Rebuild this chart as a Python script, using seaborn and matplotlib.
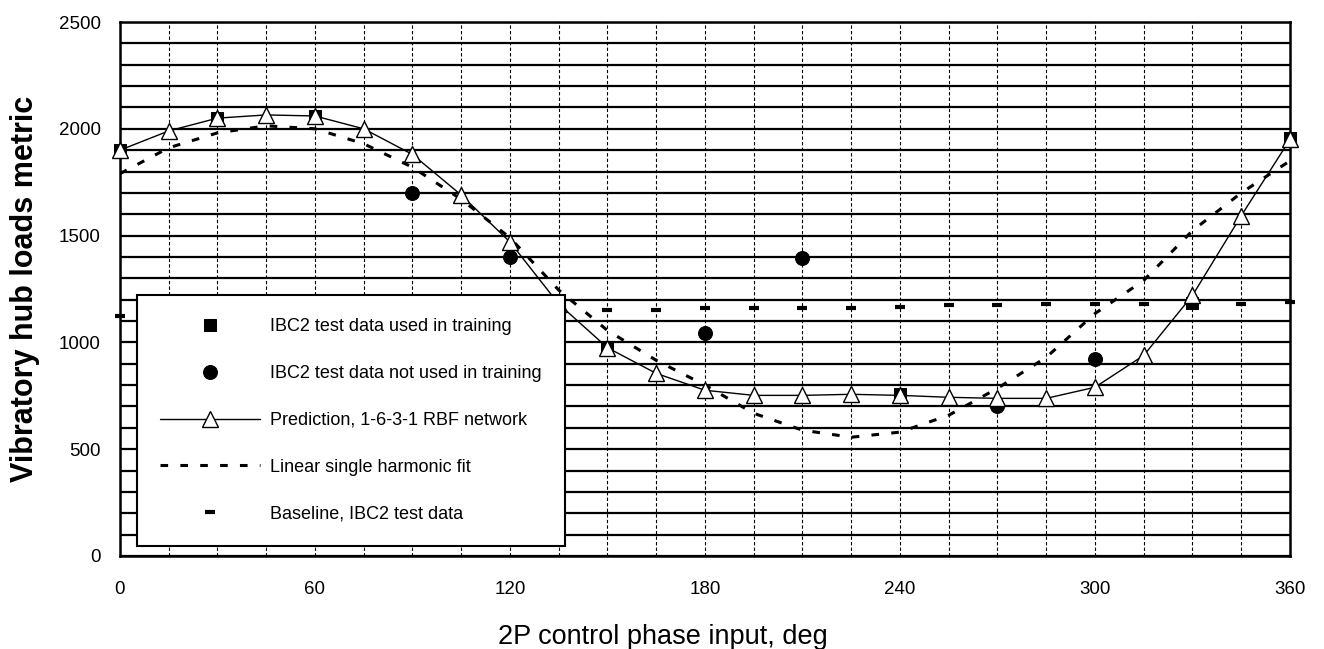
import numpy as np
import pandas as pd
import matplotlib
matplotlib.use('Agg')
import matplotlib.pyplot as plt
from matplotlib.ticker import MultipleLocator
import seaborn as sns

# angulos de fase (graus) e valores
fase = list(range(0, 361, 15))
predicao = [1900, 1990, 2050, 2065, 2060, 2000, 1880, 1690, 1470, 1180,
            975, 855, 776, 752, 752, 757, 752, 743, 738, 738,
            790, 939, 1220, 1593, 1950]
ajuste = [1790, 1911, 1981, 2014, 2000, 1930, 1820, 1670, 1490, 1245,
          1056, 916, 800, 668, 589, 556, 580, 659, 785, 930,
          1135, 1290, 1523, 1700, 1850]
base = [1125, 1130, 1135, 1140, 1140, 1145, 1145, 1148, 1150, 1150,
        1150, 1154, 1159, 1163, 1163, 1163, 1168, 1173, 1173, 1178,
        1178, 1182, 1185, 1182, 1187]

fase_treino = [0, 30, 60, 150, 240, 330, 360]
carga_treino = [1900, 2050, 2060, 975, 757, 1185, 1955]
fase_teste = [90, 120, 180, 210, 270, 300]
carga_teste = [1700, 1400, 1045, 1395, 700, 920]

sns.set_style('white')
plt.rcParams['font.family'] = ['Liberation Sans', 'DejaVu Sans']
plt.rcParams['text.color'] = 'black'
plt.rcParams['axes.labelcolor'] = 'black'
plt.rcParams['xtick.color'] = 'black'
plt.rcParams['ytick.color'] = 'black'

fig = plt.figure(figsize=(13.24, 6.49), dpi=100)
ax = fig.add_axes([0.0906, 0.1433, 0.8837, 0.8228])

sns.lineplot(x=fase_treino, y=carga_treino, ax=ax, color='black', linestyle='none',
             marker='s', markersize=8, markeredgecolor='black', clip_on=False,
             label='IBC2 test data used in training', zorder=3)
sns.lineplot(x=fase_teste, y=carga_teste, ax=ax, color='black', linestyle='none',
             marker='o', markersize=10, markeredgecolor='black', clip_on=False,
             label='IBC2 test data not used in training', zorder=3)
sns.lineplot(x=fase, y=predicao, ax=ax, color='black', linewidth=1.0,
             marker='^', markersize=11, markerfacecolor='white', markeredgecolor='black',
             markeredgewidth=1.0, clip_on=False,
             label='Prediction, 1-6-3-1 RBF network', zorder=4)
sns.lineplot(x=fase, y=ajuste, ax=ax, color='black', linewidth=2.2,
             linestyle=(0, (2.5, 4)), label='Linear single harmonic fit', zorder=2)
sns.lineplot(x=fase, y=base, ax=ax, color='black', linestyle='none',
             marker='_', markersize=7, markeredgewidth=3, markeredgecolor='black',
             clip_on=False, label='Baseline, IBC2 test data', zorder=3)

ax.set_xlim(0, 360)
ax.set_ylim(0, 2500)
ax.xaxis.set_major_locator(MultipleLocator(60))
ax.xaxis.set_minor_locator(MultipleLocator(15))
ax.yaxis.set_major_locator(MultipleLocator(500))
ax.yaxis.set_minor_locator(MultipleLocator(100))
ax.set_axisbelow(True)
ax.grid(True, which='both', axis='y', color='black', linewidth=1.6, linestyle='-')
ax.grid(True, which='both', axis='x', color='black', linewidth=0.8, linestyle=(0, (3, 2)))
ax.tick_params(which='both', length=0)
ax.tick_params(axis='x', labelsize=13.5, pad=18)
ax.tick_params(axis='y', labelsize=13.5, pad=14)
for s in ax.spines.values():
    s.set_color('black')
    s.set_linewidth(1.8)

ax.set_xlabel('2P control phase input, deg', fontsize=19.5)
ax.xaxis.set_label_coords(0.464, -0.128)
ax.set_ylabel('Vibratory hub loads metric', fontsize=22, fontweight='bold')
ax.yaxis.set_label_coords(-0.068, 0.5)

leg = ax.legend(loc='upper left', bbox_to_anchor=(0.0145, 0.489), borderaxespad=0,
                prop={'size': 13}, labelspacing=1.65, handlelength=5.5,
                handletextpad=0.55, borderpad=1.3, fancybox=False, framealpha=1,
                edgecolor='black')
leg.get_frame().set_linewidth(1.5)
leg.set_zorder(10)

fig.savefig('out.png', dpi=100)
